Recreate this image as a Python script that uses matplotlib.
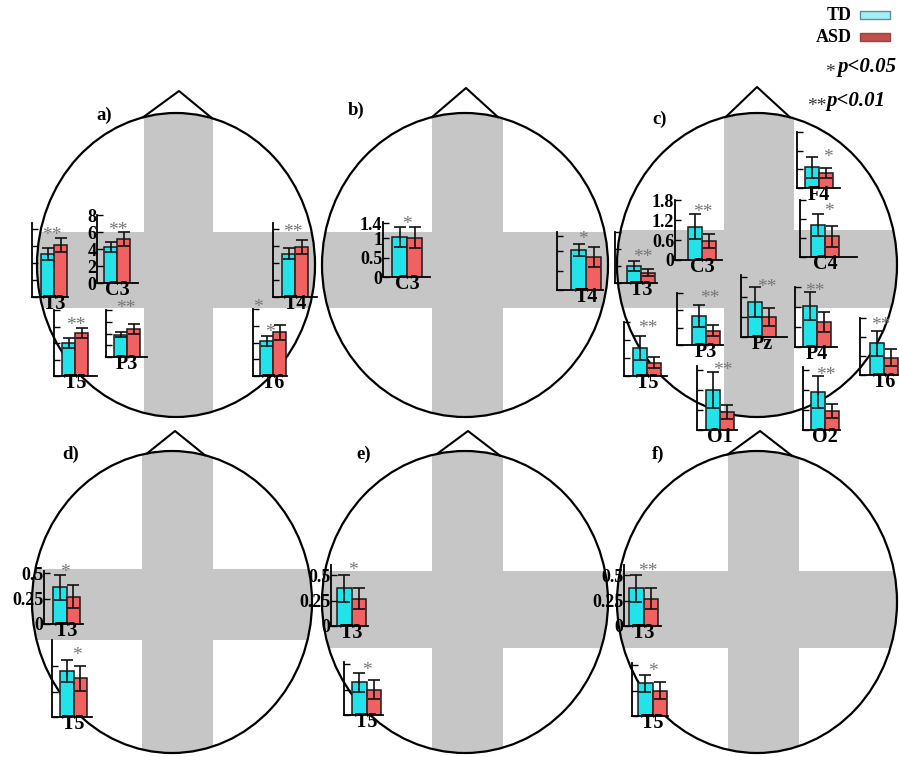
import matplotlib
matplotlib.use('Agg')
import numpy as np
import matplotlib.pyplot as plt
from matplotlib.patches import Ellipse, Rectangle
from matplotlib.transforms import offset_copy

W, H = 899, 757
SERIF = 'Liberation Serif'
TD_COLOR = '#22e3ea'
ASD_COLOR = '#f06262'
GREY = '#c6c6c6'
STAR = '#767676'

# ---------------- data ----------------
# panel a
a_sites = ['T3', 'C3', 'T4', 'T5', 'P3', 'T6']
a_td = [5.1, 4.2, 5.1, 4.0, 3.8, 4.2]
a_td_err = [0.7, 0.6, 0.65, 0.6, 0.45, 0.6]
a_asd = [6.1, 5.2, 5.9, 5.2, 4.8, 5.2]
a_asd_err = [0.85, 0.8, 0.85, 0.6, 0.8, 0.9]
a_sig = ['**', '**', '**', '**', '**', '*']
a_ticks = [0, 2, 4, 6, 8]
a_ticklabels = ['0', '2', '4', '6', '8']

# panel b
b_sites = ['C3', 'T4']
b_td = [1.04, 1.04]
b_td_err = [0.26, 0.16]
b_asd = [1.02, 0.86]
b_asd_err = [0.28, 0.26]
b_sig = ['*', '*']
b_ticks = [0, 0.5, 1, 1.4]
b_ticklabels = ['0', '0.5', '1', '1.4']

# panel c
c_sites = ['F4', 'C4', 'C3', 'T3', 'P3', 'Pz', 'P4', 'T5', 'T6', 'O1', 'O2']
c_td = [0.66, 1.0, 1.0, 0.6, 1.0, 1.05, 1.23, 0.93, 1.0, 1.2, 1.14]
c_td_err = [0.33, 0.35, 0.37, 0.18, 0.37, 0.45, 0.42, 0.4, 0.4, 0.55, 0.48]
c_asd = [0.48, 0.66, 0.57, 0.36, 0.5, 0.6, 0.75, 0.45, 0.54, 0.54, 0.57]
c_asd_err = [0.15, 0.33, 0.22, 0.12, 0.2, 0.27, 0.3, 0.17, 0.27, 0.2, 0.2]
c_sig = ['*', '*', '**', '**', '**', '**', '**', '**', '**', '**', '**']
c_ticks = [0, 0.6, 1.2, 1.8]
c_ticklabels = ['0', '0.6', '1.2', '1.8']

# panels d, e, f
d_sites = ['T3', 'T5']
d_td = [0.36, 0.45]
d_td_err = [0.12, 0.11]
d_asd = [0.27, 0.38]
d_asd_err = [0.11, 0.12]
d_sig = ['*', '*']

e_sites = ['T3', 'T5']
e_td = [0.37, 0.32]
e_td_err = [0.13, 0.09]
e_asd = [0.27, 0.25]
e_asd_err = [0.1, 0.09]
e_sig = ['*', '*']

f_sites = ['T3', 'T5']
f_td = [0.37, 0.32]
f_td_err = [0.13, 0.08]
f_asd = [0.27, 0.25]
f_asd_err = [0.1, 0.08]
f_sig = ['**', '*']

def_ticks = [0, 0.25, 0.5]
def_ticklabels = ['0', '0.25', '0.5']

# ---------------- layout (pixels) ----------------
# head: centre, radii, nose (apex x, apex y, base left x, base right x), vertical band, horizontal band, label pos
heads = {
    'a': ((176, 265), 139, 152, (179, 91, 143, 212), (144, 213), (232, 308), (96, 115)),
    'b': ((465, 265), 143, 152, (466, 88, 432, 498), (432, 503), (232, 308), (348, 110)),
    'c': ((757, 265), 140, 152, (757, 87, 726, 790), (724, 794), (230, 308), (652, 119)),
    'd': ((172, 602), 140, 151, (175, 431, 147, 205), (142, 213), (569, 640), (62, 454)),
    'e': ((465, 602), 143, 151, (468, 431, 437, 500), (432, 503), (571, 648), (356, 454)),
    'f': ((757, 602), 140, 151, (760, 431, 728, 792), (728, 799), (571, 648), (652, 454)),
}

# mini chart: spine x, bottom y, height, gap before first bar, width, star x, star y
a_lay = [(32, 297, 74, 9, 36, 52, 230), (97, 283, 68, 7, 41, 118, 225),
         (273, 297, 74, 9, 44, 293, 227), (54, 376, 66, 8, 43, 76, 320),
         (106, 357, 47, 8, 41, 126, 303), (253, 376, 67, 7, 34, 270, 327)]
b_lay = [(383, 277, 55, 9, 47, 407, 219), (557, 290, 58, 14, 46, 583, 234)]
c_lay = [(797, 188, 56, 8, 43, 828, 152), (800, 257, 57, 11, 57, 829, 206),
         (675, 260, 60, 13, 47, 703, 207), (615, 283, 51, 12, 42, 643, 252),
         (677, 345, 52, 15, 46, 710, 293), (741, 337, 62, 7, 46, 767, 282),
         (795, 347, 60, 8, 42, 815, 286), (624, 376, 54, 9, 43, 648, 323),
         (860, 375, 57, 10, 45, 881, 320), (697, 430, 64, 9, 40, 723, 365),
         (803, 430, 63, 8, 37, 826, 370)]
d_lay = [(44, 624, 53, 9, 39, 65, 567), (52, 717, 77, 8, 40, 77, 650)]
e_lay = [(331, 626, 61, 6, 37, 353, 565), (344, 715, 53, 8, 39, 367, 665)]
f_lay = [(624, 626, 61, 5, 37, 648, 566), (632, 716, 53, 6, 36, 653, 666)]

fig = plt.figure(figsize=(W / 100, H / 100), dpi=100)
bg = fig.add_axes([0, 0, 1, 1])
bg.set_xlim(0, W)
bg.set_ylim(H, 0)
bg.axis('off')


def draw_head(key):
    (cx, cy), rx, ry, nose, vb, hb, lab = heads[key]
    clip = Ellipse((cx, cy), 2 * rx, 2 * ry, transform=bg.transData)
    v = Rectangle((vb[0], cy - ry), vb[1] - vb[0], 2 * ry, fc=GREY, ec='none', zorder=1)
    h = Rectangle((cx - rx - 2, hb[0]), 2 * rx + 4, hb[1] - hb[0], fc=GREY, ec='none', zorder=1)
    for r in (v, h):
        bg.add_patch(r)
        r.set_clip_path(clip)
    bg.add_patch(Ellipse((cx, cy), 2 * rx, 2 * ry, fill=False, lw=1.6, ec='black', zorder=3))
    ax_, ay_, xl, xr = nose
    yl = cy - ry * np.sqrt(1 - ((xl - cx) / rx) ** 2)
    yr = cy - ry * np.sqrt(1 - ((xr - cx) / rx) ** 2)
    bg.plot([xl, ax_, xr], [yl, ay_, yr], color='black', lw=1.5, solid_joinstyle='round', zorder=3)
    bg.text(lab[0], lab[1], key + ')', fontfamily=SERIF, fontweight='bold', fontsize=13.5,
            ha='left', va='center')


def star(x, y, s, color=STAR):
    bg.text(x, y + 10, s, ha='center', va='baseline', fontfamily=SERIF,
            fontsize=14, color=color, zorder=5)


def mini(lay, td, tde, asd, asde, site, sig, scale, bw, ticks, ticklabels, labelled):
    x0, yb, hpx, gap, wpx, sx, sy = lay
    ax = fig.add_axes([x0 / W, 1 - yb / H, wpx / W, hpx / H])
    ax.patch.set_alpha(0)
    left = -0.5 - gap / bw
    ax.set_xlim(left, left + wpx / bw)
    ax.set_ylim(0, hpx / scale * 1.002)
    ax.bar([0, 1], [td, asd], width=1, yerr=[tde, asde], color=[TD_COLOR, ASD_COLOR],
           edgecolor='#1a1a1a', linewidth=1.1, capsize=4.5,
           error_kw=dict(elinewidth=1.2, capthick=1.2, ecolor='#111111'))
    for s in ('top', 'right'):
        ax.spines[s].set_visible(False)
    for s in ('left', 'bottom'):
        ax.spines[s].set_linewidth(1.3)
    ax.set_xticks([])
    ax.set_yticks(ticks)
    ax.tick_params(axis='y', direction='in', length=4, width=1.0, pad=0.5,
                   labelleft=labelled)
    if labelled:
        ax.set_yticklabels(ticklabels, fontfamily=SERIF, fontweight='bold', fontsize=13)
    tr = offset_copy(ax.get_xaxis_transform(), fig=fig, y=3, units='dots')
    ax.text(0.5, 0, site, transform=tr, ha='center', va='top',
            fontfamily=SERIF, fontweight='bold', fontsize=14.5, clip_on=False)
    star(sx, sy, sig)


for k in 'abcdef':
    draw_head(k)

panels = [
    (a_lay, a_td, a_td_err, a_asd, a_asd_err, a_sites, a_sig, 8.5, 13, a_ticks, a_ticklabels, 'C3'),
    (b_lay, b_td, b_td_err, b_asd, b_asd_err, b_sites, b_sig, 38.6, 15, b_ticks, b_ticklabels, 'C3'),
    (c_lay, c_td, c_td_err, c_asd, c_asd_err, c_sites, c_sig, 33.3, 14, c_ticks, c_ticklabels, 'C3'),
    (d_lay, d_td, d_td_err, d_asd, d_asd_err, d_sites, d_sig, 102, 13.5, def_ticks, def_ticklabels, 'T3'),
    (e_lay, e_td, e_td_err, e_asd, e_asd_err, e_sites, e_sig, 102, 14.5, def_ticks, def_ticklabels, 'T3'),
    (f_lay, f_td, f_td_err, f_asd, f_asd_err, f_sites, f_sig, 102, 14.5, def_ticks, def_ticklabels, 'T3'),
]
for lay, td, tde, asd, asde, sites, sig, scale, bw, ticks, tl, lab_site in panels:
    for i in range(len(sites)):
        mini(lay[i], td[i], tde[i], asd[i], asde[i], sites[i], sig[i], scale, bw,
             ticks, tl, sites[i] == lab_site)

# stray star left of T4 in panel a
star(258, 302, '*')

# legend
bg.text(852, 15, 'TD', fontfamily=SERIF, fontweight='bold', fontsize=13, ha='right', va='center')
bg.text(852, 37, 'ASD', fontfamily=SERIF, fontweight='bold', fontsize=13, ha='right', va='center')
bg.add_patch(Rectangle((860, 11), 30, 8, fc='#a6eef4', ec='#5a8f94', lw=1.0))
bg.add_patch(Rectangle((860, 33), 30, 8, fc='#c0504d', ec='#a04040', lw=1.0))
star(830, 67, '*', color='#333333')
bg.text(837, 67, 'p<0.05', fontfamily=SERIF, fontweight='bold', fontstyle='italic',
        fontsize=15, ha='left', va='center')
star(817, 101, '**', color='#333333')
bg.text(826, 101, 'p<0.01', fontfamily=SERIF, fontweight='bold', fontstyle='italic',
        fontsize=15, ha='left', va='center')

fig.savefig('out.png', dpi=100)
